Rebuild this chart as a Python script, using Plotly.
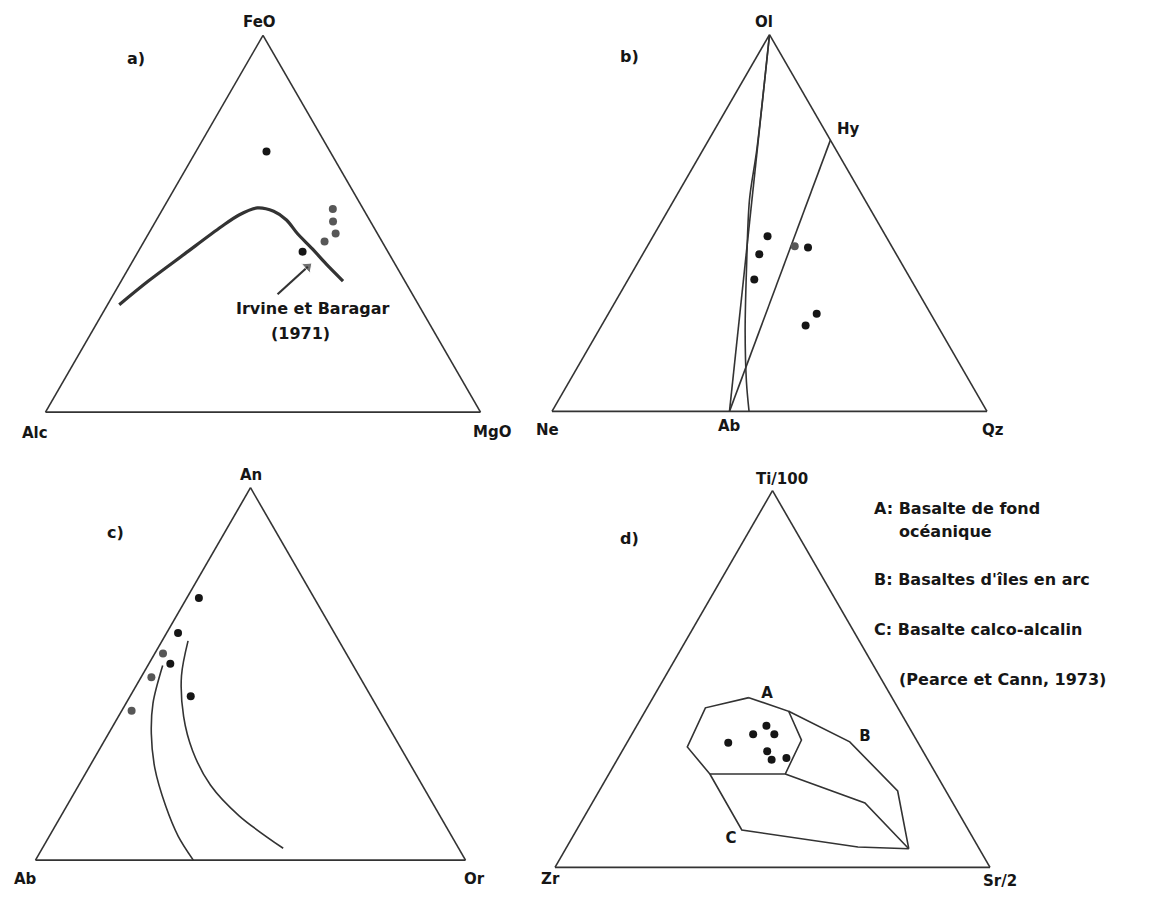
import plotly.graph_objects as go

W, H = 1152, 898
LINE = "#333333"
INK = "#161616"
GREY = "#575757"
FONT = "DejaVu Sans"

# ---------------- a) FeO / Alc / MgO ----------------
afm_dark_feo = [0.692, 0.426]
afm_dark_alc = [0.146, 0.196]
afm_dark_mgo = [0.162, 0.378]

afm_grey_feo = [0.539, 0.506, 0.474, 0.453]
afm_grey_alc = [0.070, 0.086, 0.096, 0.132]
afm_grey_mgo = [0.391, 0.408, 0.430, 0.415]

# Irvine & Baragar (1971) boundary
ib_feo = [0.285, 0.348, 0.420, 0.492, 0.524, 0.542, 0.533, 0.510, 0.474, 0.434, 0.393, 0.348]
ib_alc = [0.688, 0.590, 0.470, 0.350, 0.292, 0.242, 0.209, 0.191, 0.184, 0.170, 0.158, 0.142]
ib_mgo = [0.027, 0.0625, 0.110, 0.158, 0.184, 0.216, 0.258, 0.299, 0.342, 0.396, 0.449, 0.510]

# pointer towards the boundary
arrow_feo = [0.313, 0.386]
arrow_alc = [0.310, 0.204]
arrow_mgo = [0.377, 0.410]

# ---------------- b) Ol / Ne / Qz ----------------
nol_dark_ol = [0.465, 0.417, 0.350, 0.435, 0.259, 0.228]
nol_dark_ne = [0.272, 0.315, 0.360, 0.194, 0.262, 0.303]
nol_dark_qz = [0.263, 0.268, 0.290, 0.371, 0.479, 0.469]

nol_grey_ol = [0.438]
nol_grey_ne = [0.223]
nol_grey_qz = [0.339]

# Ol - Ab join and Ab - Hy join
ab_ol_ol, ab_ol_ne, ab_ol_qz = [0.0, 1.0], [0.592, 0.0], [0.408, 0.0]
ab_hy_ol, ab_hy_ne, ab_hy_qz = [0.0, 0.72], [0.592, 0.0], [0.408, 0.28]
# curved divide from Ol
div_ol = [1.0, 0.696, 0.562, 0.374, 0.212, 0.078, 0.0]
div_ne = [0.0, 0.181, 0.265, 0.366, 0.450, 0.514, 0.547]
div_qz = [0.0, 0.123, 0.173, 0.260, 0.338, 0.408, 0.453]

# ---------------- c) An / Ab / Or ----------------
fel_dark_an = [0.704, 0.610, 0.527, 0.440]
fel_dark_ab = [0.268, 0.3635, 0.423, 0.419]
fel_dark_or = [0.028, 0.0265, 0.050, 0.141]

fel_grey_an = [0.555, 0.491, 0.401]
fel_grey_ab = [0.426, 0.485, 0.576]
fel_grey_or = [0.019, 0.024, 0.023]

cot1_an = [0.5226, 0.4218, 0.339, 0.247, 0.1465, 0.064, 0.0]
cot1_ab = [0.443, 0.516, 0.561, 0.599, 0.624, 0.636, 0.633]
cot1_or = [0.0345, 0.0624, 0.0998, 0.154, 0.229, 0.300, 0.367]

cot2_an = [0.5887, 0.495, 0.385, 0.293, 0.2015, 0.119, 0.0317]
cot2_ab = [0.351, 0.413, 0.463, 0.488, 0.4925, 0.467, 0.408]
cot2_or = [0.0605, 0.092, 0.152, 0.219, 0.306, 0.414, 0.560]

# ---------------- d) Ti/100 / Zr / Sr/2 ----------------
pc_ti = [0.3757, 0.3532, 0.3532, 0.3305, 0.308, 0.2857, 0.290]
pc_zr = [0.326, 0.368, 0.319, 0.4365, 0.358, 0.359, 0.323]
pc_sr = [0.298, 0.279, 0.3274, 0.233, 0.3336, 0.355, 0.387]

# field A (closed)
fa_ti = [0.4505, 0.4143, 0.3378, 0.2478, 0.2478, 0.3197, 0.4235, 0.4505]
fa_zr = [0.329, 0.2557, 0.2645, 0.3468, 0.520, 0.536, 0.4425, 0.329]
fa_sr = [0.2205, 0.330, 0.3977, 0.4054, 0.232, 0.1443, 0.134, 0.2205]
# field B outer limit
fb_ti = [0.4143, 0.3332, 0.2027, 0.0495]
fb_zr = [0.2557, 0.1558, 0.1109, 0.162]
fb_sr = [0.330, 0.511, 0.6864, 0.7884]
# B / C divide
fbc_ti = [0.2478, 0.171, 0.0495]
fbc_zr = [0.3468, 0.202, 0.162]
fbc_sr = [0.4054, 0.627, 0.7884]
# field C outer limit
fc_ti = [0.2478, 0.0992, 0.054, 0.0495]
fc_zr = [0.520, 0.521, 0.2766, 0.162]
fc_sr = [0.232, 0.3798, 0.6694, 0.7884]

field_names = ["A", "B", "C"]
field_ti = [0.4595, 0.345, 0.0749]
field_zr = [0.2825, 0.115, 0.558]
field_sr = [0.258, 0.540, 0.367]

legend_lines = [
    "A: Basalte de fond",
    "océanique",
    "B: Basaltes d'îles en arc",
    "C: Basalte calco-alcalin",
    "(Pearce et Cann, 1973)",
]

fig = go.Figure()


def dots(sub, a, b, c, color, size=8):
    fig.add_trace(go.Scatterternary(
        subplot=sub, a=a, b=b, c=c, mode="markers",
        marker=dict(size=size, color=color, line=dict(width=0)),
        hoverinfo="skip"))


def curve(sub, a, b, c, width=1.6, shape="linear"):
    fig.add_trace(go.Scatterternary(
        subplot=sub, a=a, b=b, c=c, mode="lines",
        line=dict(color=LINE, width=width, shape=shape, smoothing=0.9),
        hoverinfo="skip"))


# a)
curve("ternary", ib_feo, ib_alc, ib_mgo, width=3.2, shape="spline")
fig.add_trace(go.Scatterternary(
    subplot="ternary", a=arrow_feo, b=arrow_alc, c=arrow_mgo, mode="lines+markers",
    line=dict(color=LINE, width=2.2),
    marker=dict(symbol=["circle", "triangle-up"], size=[0, 11], angle=[0, 48], color=LINE),
    hoverinfo="skip"))
dots("ternary", afm_dark_feo, afm_dark_alc, afm_dark_mgo, INK)
dots("ternary", afm_grey_feo, afm_grey_alc, afm_grey_mgo, GREY)

# b)
curve("ternary2", ab_ol_ol, ab_ol_ne, ab_ol_qz)
curve("ternary2", ab_hy_ol, ab_hy_ne, ab_hy_qz)
curve("ternary2", div_ol, div_ne, div_qz, shape="spline")
dots("ternary2", nol_dark_ol, nol_dark_ne, nol_dark_qz, INK)
dots("ternary2", nol_grey_ol, nol_grey_ne, nol_grey_qz, GREY)

# c)
curve("ternary3", cot1_an, cot1_ab, cot1_or, shape="spline")
curve("ternary3", cot2_an, cot2_ab, cot2_or, shape="spline")
dots("ternary3", fel_dark_an, fel_dark_ab, fel_dark_or, INK)
dots("ternary3", fel_grey_an, fel_grey_ab, fel_grey_or, GREY)

# d)
curve("ternary4", fa_ti, fa_zr, fa_sr)
curve("ternary4", fb_ti, fb_zr, fb_sr)
curve("ternary4", fbc_ti, fbc_zr, fbc_sr)
curve("ternary4", fc_ti, fc_zr, fc_sr)
dots("ternary4", pc_ti, pc_zr, pc_sr, INK)
fig.add_trace(go.Scatterternary(
    subplot="ternary4", a=field_ti, b=field_zr, c=field_sr, mode="text",
    text=[f"<b>{t}</b>" for t in field_names],
    textfont=dict(family=FONT, size=15, color=INK),
    hoverinfo="skip"))

axis = dict(showline=True, linecolor=LINE, linewidth=1.6, showgrid=False,
            ticks="", showticklabels=False, title=dict(text=""))


def tern(x0, x1, y0, y1):
    return dict(domain=dict(x=[x0 / W, x1 / W], y=[1 - y1 / H, 1 - y0 / H]),
                sum=1, bgcolor="white",
                aaxis=axis, baxis=axis, caxis=axis)


def label(text, px, py, size=15, xanchor="center"):
    return dict(text=f"<b>{text}</b>", x=px / W, y=1 - py / H,
                xref="paper", yref="paper", showarrow=False,
                xanchor=xanchor, yanchor="middle",
                font=dict(family=FONT, size=size, color=INK))


annotations = [
    # a)
    label("FeO", 259, 22), label("Alc", 35, 433), label("MgO", 492, 432),
    label("a)", 136, 59, 16),
    label("Irvine et Baragar", 313, 308, 16), label("(1971)", 300, 333, 16),
    # b)
    label("Ol", 764, 22), label("Ne", 547, 430), label("Qz", 993, 430),
    label("Ab", 729, 426), label("Hy", 848, 129), label("b)", 629, 57, 16),
    # c)
    label("An", 251, 475), label("Ab", 25, 879), label("Or", 474, 879),
    label("c)", 115, 532, 16),
    # d)
    label("Ti/100", 782, 479), label("Zr", 550, 879), label("Sr/2", 1000, 881),
    label("d)", 629, 538, 16),
]
legend_pos = [(872, 508), (897, 531), (872, 579), (872, 629), (897, 679)]
for txt, (px, py) in zip(legend_lines, legend_pos):
    annotations.append(label(txt, px, py, 16, xanchor="left"))

fig.update_layout(
    width=W, height=H,
    margin=dict(l=0, r=0, t=0, b=0),
    paper_bgcolor="white", plot_bgcolor="white",
    showlegend=False,
    ternary=tern(45.5, 480.5, 35.4, 412.1),
    ternary2=tern(552, 987, 34.6, 411.4),
    ternary3=tern(35.5, 465.5, 487.7, 860.1),
    ternary4=tern(555, 990, 490.6, 867.4),
    annotations=annotations,
)

fig.write_html("out.html")
